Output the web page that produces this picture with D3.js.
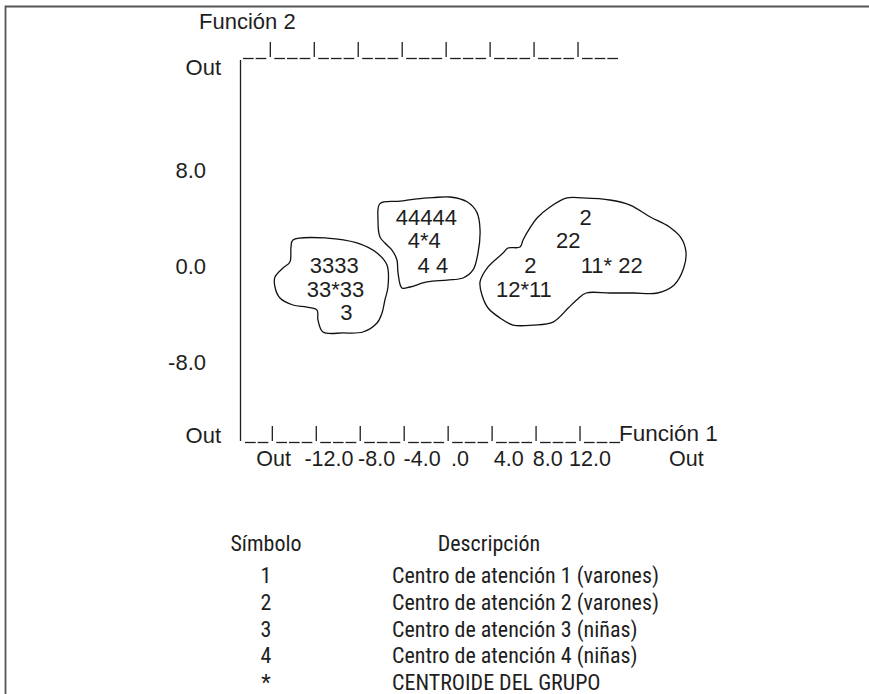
<!DOCTYPE html>
<html><head><meta charset="utf-8">
<script src="https://cdn.jsdelivr.net/npm/d3@7"></script>
<style>html,body{margin:0;padding:0;background:#fff;} svg{display:block}</style>
</head><body>
<script>
// ---- data ----
const xTickLabels = ["Out","-12.0","-8.0","-4.0",".0","4.0","8.0","12.0","Out"];
const xTickValues = [-17.2,-12.1,-7.7,-3.5,0,4.5,8.1,12,20.9];
const yTickLabels = ["Out","8.0","0.0","-8.0","Out"];
const yTickValues = [16.6,8,0,-8,-14.1];
const rulerPattern = "__|___|___|___|___|___|___|___|___";
const xTitle = "Función 1";
const yTitle = "Función 2";

const mapSymbols = ["3333","33*33","3","44444","4*4","4 4","2","22","2","11* 22","12*11"];
const mapF1 = [-11.6,-11.5,-10.5,-3.1,-3.3,-2.5,11.6,10.0,6.5,14.0,5.9];
const mapF2 = [0.1,-1.9,-3.8,4.1,2.2,0.1,4.1,2.2,0.1,0.1,-1.9];

const outline3 = [[-15.42,2.17],[-12.28,2.33],[-9.51,1.92],[-7.66,1.08],[-6.74,0.08],[-6.65,-1.75],[-6.93,-2.83],[-7.2,-3.92],[-7.66,-4.75],[-8.96,-5.5],[-10.8,-5.58],[-12.65,-5.5],[-13.11,-4.5],[-13.2,-3.67],[-14.13,-3.42],[-15.42,-3.25],[-16.62,-2.67],[-17.08,-1.75],[-17.08,-0.92],[-16.34,-0.17],[-15.7,0.33],[-15.6,1.58]];
const outline4 = [[-7.39,5.2],[-5.54,5.4],[-3.97,5.6],[-2.49,5.7],[-0.92,5.75],[0.65,5.35],[1.57,4.45],[1.85,3.0],[1.66,1.08],[1.2,-0.33],[0.28,-1.0],[-1.2,-1.17],[-3.05,-1.33],[-4.62,-1.75],[-5.36,-1.83],[-5.72,-0.58],[-5.82,0.5],[-6.28,1.33],[-6.93,1.92],[-7.39,2.42],[-7.57,3.83]];
const outline12 = [[1.85,-1.33],[2.59,-0.08],[3.97,1.08],[4.43,1.5],[5.54,1.58],[5.82,2.17],[6.46,3.17],[7.11,4.0],[8.31,4.92],[9.88,5.67],[11.31,5.67],[13.83,5.5],[15.7,5.08],[17.57,4.08],[19.33,3.25],[20.42,2.33],[20.86,1.17],[20.65,-0.17],[19.77,-1.58],[18.23,-2.25],[16.03,-2.25],[13.83,-2.25],[11.64,-2.25],[10.76,-2.83],[9.99,-3.5],[8.59,-4.67],[6.74,-4.92],[4.89,-4.92],[3.69,-4.33],[2.59,-3.5],[2.03,-2.42]];

const legendHeader = ["Símbolo","Descripción"];
const legendSymbols = ["1","2","3","4","*"];
const legendDescriptions = ["Centro de atención 1 (varones)","Centro de atención 2 (varones)","Centro de atención 3 (niñas)","Centro de atención 4 (niñas)","CENTROIDE DEL GRUPO"];

// ---- drawing ----
const W = 869, H = 694;
const FONT = "'Liberation Sans', Arial, Helvetica, sans-serif";
const NARROW = "'Liberation Sans Narrow', 'Arial Narrow', 'Roboto Condensed', 'DejaVu Sans Condensed', sans-serif";
const INK = "#1e1e1e";

const svg = d3.select("body").append("svg").attr("width", W).attr("height", H);

// frame
svg.append("path").attr("d", `M5.5,${H} L5.5,6.5 L${W},6.5`)
  .attr("fill","none").attr("stroke","#555").attr("stroke-width",1.8);

const x = d3.scaleLinear().domain([-12, 12]).range([330, 590]);
const y = d3.scaleLinear().domain([-8, 8]).range([362, 170]);

// rulers drawn as character cells
const adv = {"_":0.556, "|":0.26};
const em = 22.8;
function ruler(x0, yLine, yTop) {
  let offs = [], acc = 0;
  for (const c of rulerPattern) { offs.push(acc); acc += adv[c]; }
  const u = d3.scaleLinear().domain([0, acc]).range([x0, x0 + acc * em]);
  const g = svg.append("g").attr("stroke", INK).attr("stroke-width", 1.3);
  rulerPattern.split("").forEach((c, i) => {
    const a = u(offs[i]), b = u(offs[i] + adv[c]);
    if (c === "_") g.append("line").attr("x1", a + 1).attr("x2", b - 1).attr("y1", yLine).attr("y2", yLine);
    else g.append("line").attr("x1", (a + b) / 2).attr("x2", (a + b) / 2).attr("y1", yTop).attr("y2", yLine - 1.5);
  });
  return u(acc);
}
ruler(242, 58.5, 42);
const endB = ruler(244, 442.5, 426);

// y axis line
svg.append("line").attr("x1",240.5).attr("x2",240.5).attr("y1",60).attr("y2",441)
  .attr("stroke",INK).attr("stroke-width",1.3);

// titles
svg.append("text").attr("x",199).attr("y",29).attr("font-family",FONT).attr("font-size",22)
  .attr("fill",INK).text(yTitle);
svg.append("text").attr("x",endB - 2).attr("y",441).attr("font-family",FONT).attr("font-size",22.5)
  .attr("fill",INK).text(xTitle);

// y tick labels
svg.append("g").selectAll("text").data(yTickLabels).join("text")
  .attr("x", d => d === "Out" ? 221 : 206).attr("y", (d,i) => y(yTickValues[i])).attr("dy","0.36em")
  .attr("text-anchor","end").attr("font-family",FONT).attr("font-size",22).attr("fill",INK)
  .text(d => d);

// x tick labels
svg.append("g").selectAll("text").data(xTickLabels).join("text")
  .attr("x", (d,i) => x(xTickValues[i])).attr("y", 466)
  .attr("text-anchor","middle").attr("font-family",FONT).attr("font-size",21.5).attr("fill",INK)
  .text(d => d);

// territory outlines
const line = d3.line().x(d => x(d[0])).y(d => y(d[1])).curve(d3.curveCatmullRomClosed.alpha(0.5));
svg.append("g").selectAll("path").data([outline3, outline4, outline12]).join("path")
  .attr("d", line).attr("fill","none").attr("stroke","#111").attr("stroke-width",1.3);

// map symbols
svg.append("g").selectAll("text").data(mapSymbols).join("text")
  .attr("x", (d,i) => x(mapF1[i])).attr("y", (d,i) => y(mapF2[i])).attr("dy","0.36em")
  .attr("text-anchor","middle").attr("font-family",FONT).attr("font-size",22).attr("fill",INK)
  .attr("xml:space","preserve").style("white-space","pre")
  .text(d => d);

// legend
const lg = svg.append("g").attr("font-family",NARROW).attr("font-size",22).attr("fill",INK);
lg.append("text").attr("x",266).attr("y",551).attr("text-anchor","middle").text(legendHeader[0]);
lg.append("text").attr("x",489).attr("y",551).attr("text-anchor","middle").text(legendHeader[1]);
const rowY = d3.scalePoint().domain(d3.range(legendSymbols.length)).range([583, 690]);
lg.selectAll("text.sym").data(legendSymbols).join("text").attr("class","sym")
  .attr("x",266).attr("y",(d,i)=>rowY(i)).attr("text-anchor","middle").text(d=>d);
lg.selectAll("text.desc").data(legendDescriptions).join("text").attr("class","desc")
  .attr("x",392).attr("y",(d,i)=>rowY(i)).text(d=>d);
</script>
</body></html>
